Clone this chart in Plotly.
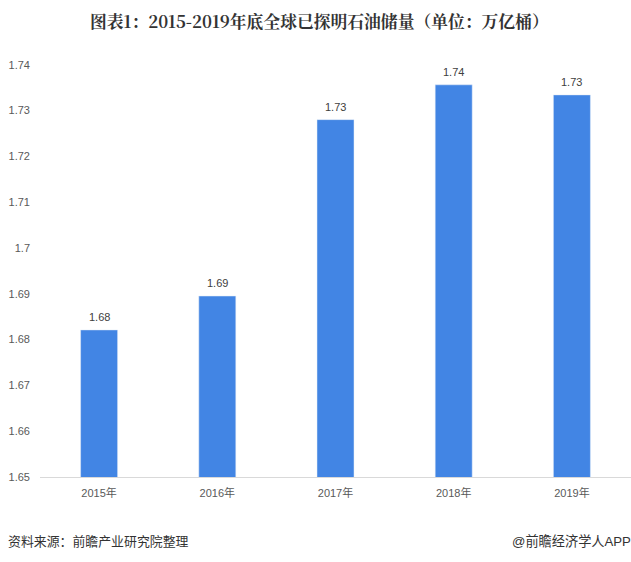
import plotly.graph_objects as go

years = ["2015年", "2016年", "2017年", "2018年", "2019年"]
values = [1.6821, 1.6895, 1.728, 1.7356, 1.7334]
labels = ["1.68", "1.69", "1.73", "1.74", "1.73"]
tick_vals = [1.65, 1.66, 1.67, 1.68, 1.69, 1.7, 1.71, 1.72, 1.73, 1.74]
tick_text = ["1.65", "1.66", "1.67", "1.68", "1.69", "1.7", "1.71", "1.72", "1.73", "1.74"]

title = "图表1：2015-2019年底全球已探明石油储量（单位：万亿桶）"
source = "资料来源：前瞻产业研究院整理"
credit = "@前瞻经济学人APP"
FONT = "Liberation Sans, Noto Sans CJK SC, sans-serif"
GREY = "#595959"

fig = go.Figure(go.Bar(x=years, y=values, marker_color="#4285E4", width=0.313))

annotations = [
    dict(x=x, y=v, text=t, xref="x", yref="y", yshift=13, xanchor="center", yanchor="middle",
         showarrow=False, font=dict(size=11, color="#404040", family=FONT))
    for x, v, t in zip(years, values, labels)
]
annotations += [
    dict(text="<b>" + title + "</b>", xref="paper", yref="paper", x=0.5, y=1.0, xshift=-16, yshift=7,
         xanchor="center", yanchor="middle", showarrow=False,
         font=dict(size=16.8, color="#333333", family="Noto Serif CJK SC, Noto Sans CJK SC, serif")),
    dict(text=source, xref="paper", yref="paper", x=0, y=0, xshift=-34, yshift=-64,
         xanchor="left", yanchor="middle", showarrow=False,
         font=dict(size=12.9, color="#333333", family=FONT)),
    dict(text=credit, xref="paper", yref="paper", x=1, y=0, xshift=2, yshift=-64,
         xanchor="right", yanchor="middle", showarrow=False,
         font=dict(size=13.2, color="#333333", family=FONT)),
]

# The figure fills the window exactly, so the page's default margin is removed.
fig.update_layout(
    width=631, height=562, margin=dict(l=40, r=0, t=28, b=85),
    paper_bgcolor="white", plot_bgcolor="white", showlegend=False,
    xaxis=dict(showgrid=False, showline=True, linecolor="#D9D9D9", linewidth=1, ticks="",
               ticklabelstandoff=6, tickfont=dict(size=11, color=GREY, family=FONT), fixedrange=True),
    yaxis=dict(range=[1.65, 1.748], tickvals=tick_vals, ticktext=tick_text,
               showgrid=False, showline=False, zeroline=False, ticks="", ticklabelstandoff=9,
               tickfont=dict(size=11, color=GREY, family=FONT), fixedrange=True),
    annotations=annotations,
)
fig.write_html("out.html", config={"displayModeBar": False},
               post_script="document.body.style.margin='0';document.body.style.overflow='hidden';")
